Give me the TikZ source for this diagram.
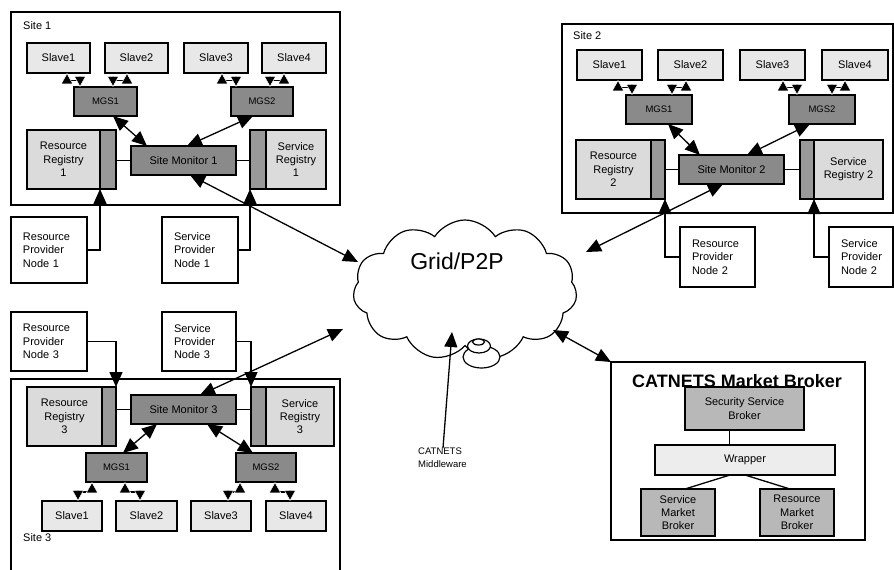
\documentclass[tikz,border=0pt]{standalone}
\usepackage{fontspec}
\setmainfont{Liberation Sans}
\usepackage{tikz}
\usetikzlibrary{arrows.meta,calc,positioning,shapes.symbols,shapes.geometric}
\definecolor{slavegray}{rgb}{0.91,0.91,0.91}
\definecolor{mgsgray}{rgb}{0.54,0.54,0.54}
\definecolor{reggray}{rgb}{0.86,0.86,0.86}
\definecolor{bargray}{rgb}{0.60,0.60,0.60}
\definecolor{brokergray}{rgb}{0.72,0.72,0.72}
\definecolor{wrapgray}{rgb}{0.93,0.93,0.93}

\begin{document}
\begin{tikzpicture}[
x=1pt, y=-1pt,
every node/.style = {font=\fontsize{11}{13.3}\selectfont},
box/.style      = {draw, line width=1.2pt, inner sep=0pt, outer sep=0pt, align=center},
site/.style     = {box, minimum width=#1, anchor=north west},
slave/.style    = {box, minimum width=#1, minimum height=30pt,
                   fill=slavegray, anchor=north west},
mgs/.style      = {box, minimum width=#1, minimum height=29pt,
                   fill=mgsgray, anchor=north west,
                   font=\fontsize{9.5}{11}\selectfont},
monitor/.style  = {box, minimum width=105pt, minimum height=29pt,
                   fill=mgsgray, anchor=north west},
registry/.style = {box, minimum width=#1, minimum height=59pt,
                   fill=reggray, anchor=north west},
regbar/.style   = {box, minimum width=#1, minimum height=59pt, fill=bargray},
provider/.style = {box, minimum width=#1, text width=#1-24pt,
                   align=left, anchor=north west},
broker/.style   = {box, minimum width=#1, fill=brokergray, anchor=north west},
Arrow/.style    = {line width=1.3pt,
                   {Triangle[length=15pt,width=13pt]}-{Triangle[length=15pt,width=13pt]}},
Feed/.style     = {line width=1.3pt, -{Triangle[length=15pt,width=13pt]}},
Link/.style     = {line width=1.3pt,
                   {Triangle[length=11pt,width=12pt,color=white,fill=black,line width=0.5pt]}-{Triangle[length=11pt,width=12pt,color=white,fill=black,line width=0.5pt]}},
Conn/.style     = {line width=1.3pt},
                    ]
\useasboundingbox (0,0) rectangle (894,570);

% Site 1
\node[site=329pt, minimum height=193pt] (site1) at (11,12) {};
\node[anchor=west, inner sep=0pt] (site1lbl) at (23,26) {Site 1};
\node[slave=63pt] (s11) at (27,43)  {Slave1};
\node[slave=63pt] (s12) at (105,43) {Slave2};
\node[slave=64pt] (s13) at (184,43) {Slave3};
\node[slave=64pt] (s14) at (262,43) {Slave4};
\node[mgs=63pt]   (m11) at (74,87)  {MGS1};
\node[mgs=62pt]   (m12) at (231,87) {MGS2};
\node[registry=73pt]     (rr1) at (27,130) {Resource\\Registry\\1};
\node[regbar=16pt, right=0pt of rr1] (rr1bar) {};
\node[registry=60pt]     (sr1) at (266,130) {Service\\Registry\\1};
\node[regbar=16pt, left=0pt of sr1]  (sr1bar) {};
\node[monitor]    (sm1) at (131,146) {Site Monitor 1};
\node[provider=76pt, minimum height=66pt] (rpn1) at (11,217) {Resource\\Provider\\Node 1};
\node[provider=76pt, minimum height=66pt] (spn1) at (162,217) {Service\\Provider\\Node 1};

% Site 2
\node[site=331pt, minimum height=189pt] (site2) at (562,24) {};
\node[anchor=west, inner sep=0pt] (site2lbl) at (573,36) {Site 2};
\node[slave=65pt] (s21) at (577,50) {Slave1};
\node[slave=65pt] (s22) at (658,50) {Slave2};
\node[slave=65pt] (s23) at (740,50) {Slave3};
\node[slave=66pt] (s24) at (822,50) {Slave4};
\node[mgs=66pt]   (m21) at (626,95) {MGS1};
\node[mgs=66pt]   (m22) at (789,95) {MGS2};
\node[registry=75pt]     (rr2) at (576,140) {Resource\\Registry\\2};
\node[regbar=14pt, right=0pt of rr2] (rr2bar) {};
\node[registry=69pt]     (sr2) at (814,140) {Service\\Registry 2};
\node[regbar=14pt, left=0pt of sr2]  (sr2bar) {};
\node[monitor]    (sm2) at (679,155) {Site Monitor 2};
\node[provider=75pt, minimum height=60pt] (rpn2) at (680,227) {Resource\\Provider\\Node 2};
\node[provider=64pt, minimum height=60pt] (spn2) at (829,227) {Service\\Provider\\Node 2};

% Site 3
\node[site=329pt, minimum height=200pt] (site3) at (11,379) {};
\node[anchor=west, inner sep=0pt] (site3lbl) at (23,538) {Site 3};
\node[provider=76pt, minimum height=59pt] (rpn3) at (11,312) {Resource\\Provider\\Node 3};
\node[provider=74pt, minimum height=59pt] (spn3) at (162,312) {Service\\Provider\\Node 3};
\node[registry=75pt]     (rr3) at (27,387) {Resource\\Registry\\3};
\node[regbar=14pt, right=0pt of rr3] (rr3bar) {};
\node[registry=68pt]     (sr3) at (266,387) {Service\\Registry\\3};
\node[regbar=15pt, left=0pt of sr3]  (sr3bar) {};
\node[monitor]    (sm3) at (131,395) {Site Monitor 3};
\node[mgs=61pt]   (m31) at (86,453)  {MGS1};
\node[mgs=60pt]   (m32) at (236,453) {MGS2};
\node[slave=60pt] (s31) at (42,501)  {Slave1};
\node[slave=61pt] (s32) at (116,501) {Slave2};
\node[slave=60pt] (s33) at (191,501) {Slave3};
\node[slave=60pt] (s34) at (266,501) {Slave4};

% Grid cloud
\node[cloud, draw, line width=1.2pt, cloud puffs=11, cloud puff arc=115, aspect=1.6,
      minimum width=224pt, minimum height=140pt, inner sep=0pt] (grid) at (465,290) {};
\node[ellipse, draw, line width=1.2pt, fill=white, minimum width=37pt, minimum height=22pt] (bub1) at (481.5,357) {};
\node[ellipse, draw, line width=1.2pt, fill=white, minimum width=23pt, minimum height=14pt] (bub2) at (479,346) {};
\node[ellipse, draw, line width=1.2pt, fill=white, minimum width=12pt, minimum height=6pt, inner sep=0pt] (bub3) at (478.5,342) {};
\node[font=\fontsize{23}{26}\selectfont] (gridlbl) at (457,261) {Grid/P2P};
\node[anchor=north west, inner sep=0pt, align=left,
      font=\fontsize{9.5}{13}\selectfont] (mw) at (418,448) {CATNETS\\Middleware};
\coordinate (c1) at (358,262);
\coordinate (c2) at (586,252);
\coordinate (c3) at (343,329);
\coordinate (c4) at (553,330);
\coordinate (c5) at (452,332);

% Market broker
\node[site=254pt, minimum height=178pt] (cmb) at (611,362) {};
\node[font=\fontsize{18}{20}\selectfont\bfseries] (cmblbl) at (737,381) {CATNETS Market Broker};
\node[broker=119pt, minimum height=43pt] (ssb) at (685,387) {Security Service\\Broker};
\node[box, fill=wrapgray, minimum width=180pt, minimum height=30pt,
      anchor=north west] (wrap) at (655,445) {Wrapper};
\node[broker=74pt, minimum height=47pt] (smb) at (641,489) {Service\\Market\\Broker};
\node[broker=74pt, minimum height=47pt] (rmb) at (760,489) {Resource\\Market\\Broker};

% links site 1
\draw[Link] ([xshift=8.5pt]s11.south) -- ++(0,7.5) -| ([xshift=-25.5pt]m11.north);
\draw[Link] ([xshift=-9.5pt]s12.south) -- ++(0,7.5) -| ([xshift=7.5pt]m11.north);
\draw[Link] ([xshift=6pt]s13.south) -- ++(0,7.5) -| ([xshift=-26pt]m12.north);
\draw[Link] ([xshift=-10pt]s14.south) -- ++(0,7.5) -| ([xshift=8pt]m12.north);
\draw[Arrow] ([xshift=7.5pt]m11.south) -- ([xshift=-36.5pt]sm1.north);
\draw[Arrow] ([xshift=-9pt]m12.south) -- ([xshift=3.5pt]sm1.north);
\draw[Conn]  (sm1.west) -- (sm1.west -| rr1bar.east);
\draw[Conn]  (sm1.east) -- (sm1.east -| sr1bar.west);
\draw[Feed]  (rpn1.east) -| (rr1bar.south west);
\draw[Feed]  (spn1.east) -| (sr1bar.south west);

% links site 2
\draw[Link] ([xshift=8.5pt]s21.south) -- ++(0,7.5) -| ([xshift=-27pt]m21.north);
\draw[Link] ([xshift=-4.5pt]s22.south) -- ++(0,7.5) -| ([xshift=13pt]m21.north);
\draw[Link] ([xshift=10.5pt]s23.south) -- ++(0,7.5) -| ([xshift=-25pt]m22.north);
\draw[Link] ([xshift=-10pt]s24.south) -- ++(0,7.5) -| ([xshift=10pt]m22.north);
\draw[Arrow] ([xshift=9pt]m21.south) -- ([xshift=-31.5pt]sm2.north);
\draw[Arrow] ([xshift=-12pt]m22.south) -- ([xshift=15.5pt]sm2.north);
\draw[Conn]  (sm2.west) -- (sm2.west -| rr2bar.east);
\draw[Conn]  (sm2.east) -- (sm2.east -| sr2bar.west);
\draw[Feed]  (rpn2.west) -| (rr2bar.south east);
\draw[Feed]  (spn2.west) -| (sr2bar.south east);

% links site 3
\draw[Link] ([xshift=6pt]s31.north) -- ++(0,-9) -| ([xshift=-24.5pt]m31.south);
\draw[Link] ([xshift=-6.5pt]s32.north) -- ++(0,-9) -| ([xshift=8.5pt]m31.south);
\draw[Link] ([xshift=7pt]s33.north) -- ++(0,-9) -| ([xshift=-26pt]m32.south);
\draw[Link] ([xshift=-6pt]s34.north) -- ++(0,-9) -| ([xshift=9pt]m32.south);
\draw[Arrow] ([xshift=6.5pt]m31.north) -- ([xshift=-26.5pt]sm3.south);
\draw[Arrow] ([xshift=-13pt]m32.north) -- ([xshift=23.5pt]sm3.south);
\draw[Conn]  (sm3.west) -- (sm3.west -| rr3bar.east);
\draw[Conn]  (sm3.east) -- (sm3.east -| sr3bar.west);
\draw[Feed]  (rpn3.east) -| (rr3bar.north east);
\draw[Feed]  (spn3.east) -| (sr3bar.north west);

% to the grid
\draw[Arrow] ([xshift=6.5pt]sm1.south) -- (c1);
\draw[Arrow] ([xshift=-8.5pt]sm2.south) -- (c2);
\draw[Arrow] ([xshift=16.5pt]sm3.north) -- (c3);
\draw[Arrow] (c4) -- (cmb.north west);
\draw[Feed]  ([xshift=25pt]mw.north west) -- (c5);

% broker inside
\draw[Conn] ([xshift=-15pt]ssb.south) -- ([xshift=-15pt]ssb.south |- wrap.north);
\draw[Conn] ([xshift=-15pt]wrap.south) -- ([xshift=7pt]smb.north);
\draw[Conn] (wrap.south) -- ([xshift=-7pt]rmb.north);
\end{tikzpicture}
\end{document}
